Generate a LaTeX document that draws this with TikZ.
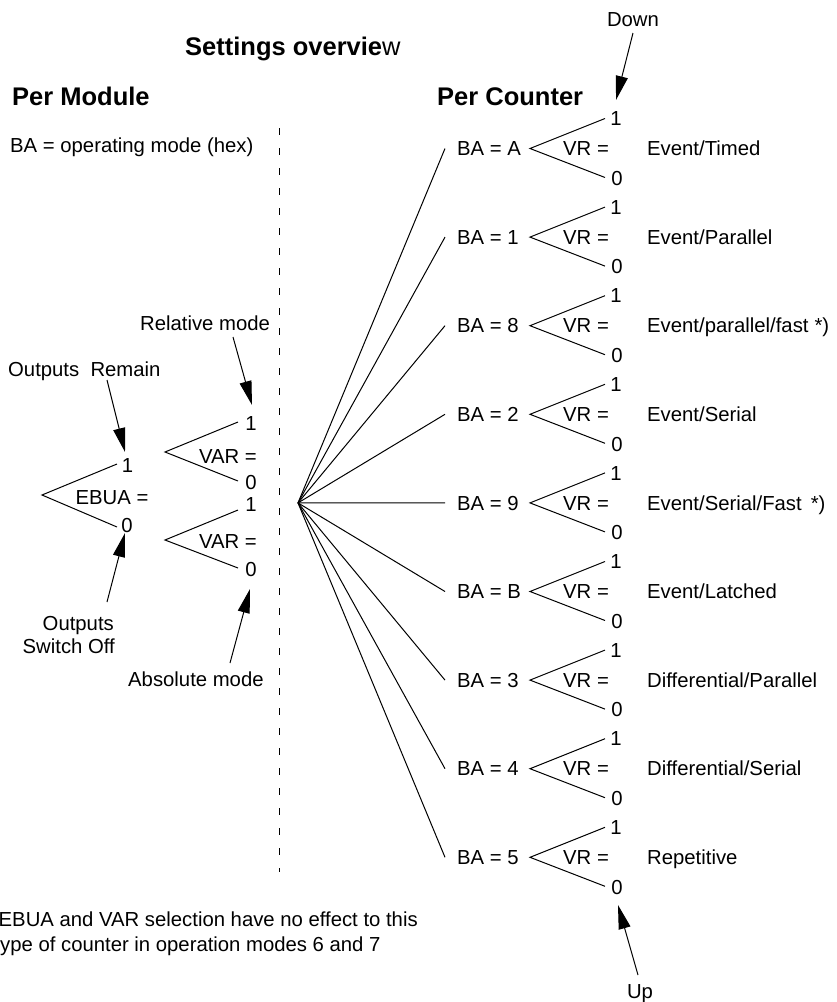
\documentclass[tikz,border=0pt]{standalone}
\usepackage{fontspec}
\setmainfont{Liberation Sans}
\usetikzlibrary{arrows.meta}
\begin{document}
\begin{tikzpicture}[x=1pt,y=-1pt,
  txt/.style={inner sep=0pt, font=\fontsize{20.3}{24}\selectfont},
  head/.style={inner sep=0pt, font=\fontsize{25.5}{30}\selectfont\bfseries},
  ln/.style={line width=1pt, draw=black},
  arr/.style={line width=1pt, draw=black, -{Triangle[length=24pt,width=12pt]}},
  dashline/.style={line width=1pt, draw=black, dash pattern=on 7pt off 13pt},
]
\useasboundingbox (0,0) rectangle (836,1002);
\fill[white] (0,0) rectangle (836,1002);

% headings
\node[head, anchor=base west] (title) at (185,55) {Settings overvie\mdseries w};
\node[head, anchor=base west] (pmod) at (12,105) {Per Module};
\node[head, anchor=base west] (pcnt) at (437,105) {Per Counter};
\node[txt, anchor=base west] (bahex) at (10,152.7) {BA = operating mode (hex)};

% dashed separator
\coordinate (dtop) at (279,128);
\coordinate (dbot) at (279,872);
\draw[dashline] (dtop) -- (dbot);

% ---- per module ----
\coordinate (ev) at (42,495);
\coordinate (eu) at (117,464);
\coordinate (ed) at (117,527);
\draw[ln] (eu) -- (ev) -- (ed);
\node[txt, anchor=base] (e1) at (127.5,472.2) {1};
\node[txt, anchor=base] (e0) at (127,532.2) {0};
\node[txt, anchor=base] (ebua) at (112,504.2) {EBUA =};

\coordinate (av) at (165,452);
\coordinate (au) at (238,422);
\coordinate (ad) at (238,481);
\draw[ln] (au) -- (av) -- (ad);
\node[txt, anchor=base] (a1) at (251,430.2) {1};
\node[txt, anchor=base] (a0) at (251,489.2) {0};
\node[txt, anchor=base] (var1) at (228,463.2) {VAR =};

\coordinate (bv) at (165,540);
\coordinate (bu) at (238,510);
\coordinate (bd) at (238,568);
\draw[ln] (bu) -- (bv) -- (bd);
\node[txt, anchor=base] (b1) at (251,511.2) {1};
\node[txt, anchor=base] (b0) at (251,576.2) {0};
\node[txt, anchor=base] (var2) at (228,548.2) {VAR =};

\node[txt, anchor=base west] (orem) at (8,376.2) {Outputs~ Remain};
\node[txt, anchor=base west] (rel) at (140,330.5) {Relative mode};
\node[txt, anchor=base east] (oout) at (114,630) {Outputs};
\node[txt, anchor=base east] (osw) at (115,653) {Switch Off};
\node[txt, anchor=base west] (absm) at (128,686.5) {Absolute mode};

\coordinate (t1) at (107,380); \coordinate (h1) at (125,452);
\coordinate (t2) at (233,337); \coordinate (h2) at (252,405);
\coordinate (t3) at (107,602); \coordinate (h3) at (125,533);
\coordinate (t4) at (230,663); \coordinate (h4) at (250,589);
\draw[arr] (t1) -- (h1);
\draw[arr] (t2) -- (h2);
\draw[arr] (t3) -- (h3);
\draw[arr] (t4) -- (h4);

% ---- per counter ----
\coordinate (hub) at (298,502.9);
\foreach \k/\v/\lab in {0/A/{Event/Timed},1/1/{Event/Parallel},2/8/{Event/parallel/fast\hspace{6pt}*)},3/2/{Event/Serial},4/9/{Event/Serial/Fast\hspace{9pt}*)},5/B/{Event/Latched},6/3/{Differential/Parallel},7/4/{Differential/Serial},8/5/{Repetitive}}{
  \pgfmathsetmacro\c{148.5+88.6*\k}
  \coordinate (e\k) at (445,\c);
  \node[txt, anchor=base west] (ba\k) at (457,\c+7.2) {BA = \v};
  \coordinate (v\k) at (530,\c);
  \coordinate (u\k) at (605,\c-30);
  \coordinate (d\k) at (605,\c+29);
  \node[txt, anchor=base] (one\k) at (616,\c-22.8) {1};
  \node[txt, anchor=base] (zero\k) at (617,\c+36.7) {0};
  \node[txt, anchor=base west] (vr\k) at (563,\c+7.2) {VR =};
  \node[txt, anchor=base west] (lab\k) at (647,\c+7.2) {\lab};
  \draw[ln] (hub) -- (e\k);
  \draw[ln] (u\k) -- (v\k) -- (d\k);
}

\node[txt, anchor=base] (down) at (633,26) {Down};
\node[txt, anchor=base] (up) at (640,998) {Up};
\coordinate (dt) at (633,33); \coordinate (dh) at (616,100);
\coordinate (ut) at (638,975); \coordinate (uh) at (618,905);
\draw[arr] (dt) -- (dh);
\draw[arr] (ut) -- (uh);

% note
\node[txt, anchor=base west] (note1) at (-1.5,926.5) {EBUA and VAR selection have no effect to this};
\node[txt, anchor=base west] (note2) at (0,951.5) {ype of counter in operation modes 6 and 7};
\end{tikzpicture}
\end{document}
